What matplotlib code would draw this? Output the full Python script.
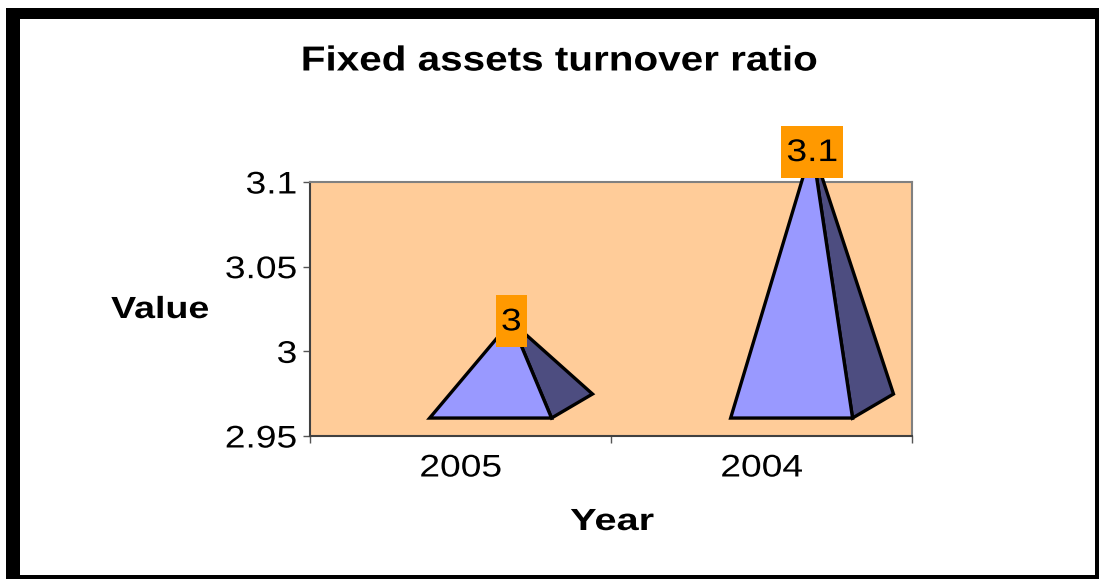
#!/usr/bin/env python3
"""Fixed assets turnover ratio - pyramid style column chart."""

import matplotlib
matplotlib.use("Agg")
import matplotlib.pyplot as plt
from matplotlib.patches import Polygon, Rectangle
from matplotlib.patheffects import AbstractPathEffect
from matplotlib.transforms import Affine2D, blended_transform_factory

plt.rcParams["font.family"] = ["Liberation Sans", "DejaVu Sans"]

# Data
YEARS = ["2005", "2004"]
VALUES = [3.0, 3.103]
LABEL_VALUES = [3.0, 3.1]
VALUE_LABELS = ["3", "3.1"]
Y_TICKS = [2.95, 3.0, 3.05, 3.1]
Y_TICK_LABELS = ["2.95", "3", "3.05", "3.1"]

# Appearance
W, H = 1099, 579
PLOT_LEFT, PLOT_RIGHT, PLOT_TOP, PLOT_BOTTOM = 310, 912, 182, 436
FRONT = "#9999ff"
SIDE = "#4d4d80"
PLOT_BG = "#ffcc99"
LABEL_BG = "#ff9900"
AXIS_GRAY = "#808080"
TICK_SIZE = 22.5
LABEL_SIZE = 22
TITLE_SIZE = 25
STRETCH = 1.19

# Pyramid geometry in data units
BASE_SHIFT = 0.10
BASE_WIDTH = 0.405
DEPTH_X = 0.136
DEPTH_Y = 0.0142
FLOOR = 2.9606
APEX_LIFT = 0.0177
LABEL_BOX_H = 0.0307
LABEL_BOX_W = 0.103  # per character slot
LABEL_DROP = 0.0006


class Stretch(AbstractPathEffect):
    """Widen text about its anchor; the source chart's type is horizontally stretched."""

    def __init__(self, sx, anchor=0.5):
        super().__init__()
        self.sx = sx
        self.anchor = anchor

    def draw_path(self, renderer, gc, tpath, affine, rgbFace=None):
        width = affine.transform_path(tpath).get_extents().width
        shift = -self.anchor * (self.sx - 1) * width
        stretched = Affine2D().scale(self.sx, 1) + affine + Affine2D().translate(shift, 0)
        renderer.draw_path(gc, tpath, stretched, rgbFace)


def fx(px):
    return px / W


def fy(px):
    return 1 - px / H


def main():
    fig = plt.figure(figsize=(W / 100, H / 100), dpi=100, facecolor="white")

    # Heavy black frame around the chart
    for x0, y0, x1, y1 in [(6, 8, 20, 579), (6, 8, 1099, 19), (1095, 8, 1099, 579), (6, 575, 1099, 579)]:
        fig.add_artist(Rectangle((fx(x0), fy(y1)), fx(x1 - x0), fy(y0) - fy(y1),
                                 transform=fig.transFigure, facecolor="black", edgecolor="none"))

    ax = fig.add_axes([fx(PLOT_LEFT), fy(PLOT_BOTTOM),
                       fx(PLOT_RIGHT - PLOT_LEFT), fy(PLOT_TOP) - fy(PLOT_BOTTOM)])
    ax.set_facecolor(PLOT_BG)
    ax.set_xlim(0, 2)
    ax.set_ylim(Y_TICKS[0], Y_TICKS[-1])

    for i, (value, label_value, label) in enumerate(zip(VALUES, LABEL_VALUES, VALUE_LABELS)):
        left = i + 0.5 - BASE_WIDTH / 2 + BASE_SHIFT
        right = left + BASE_WIDTH
        centre = left + BASE_WIDTH / 2 + DEPTH_X / 2
        apex = (centre, value + APEX_LIFT)
        back = (right + DEPTH_X, FLOOR + DEPTH_Y)
        ax.add_patch(Polygon([apex, (right, FLOOR), back], closed=True, facecolor=SIDE,
                             edgecolor="black", linewidth=2.4, clip_on=False, zorder=3))
        ax.add_patch(Polygon([apex, (left, FLOOR), (right, FLOOR)], closed=True, facecolor=FRONT,
                             edgecolor="black", linewidth=2.4, clip_on=False, zorder=4))

        # Orange label box centred over the pyramid
        box_w = LABEL_BOX_W * (1 if len(label) == 1 else 2)
        label_y = label_value + APEX_LIFT
        ax.add_patch(Rectangle((centre - box_w / 2, label_y - LABEL_BOX_H / 2), box_w, LABEL_BOX_H,
                               facecolor=LABEL_BG, edgecolor="none", clip_on=False, zorder=5))
        ax.text(centre, label_y - LABEL_DROP, label, ha="center", va="center", fontsize=TICK_SIZE,
                color="black", zorder=6, clip_on=False, path_effects=[Stretch(STRETCH)])

    ax.set_xticks([0, 1, 2])
    ax.set_xticklabels([])
    ax.set_yticks(Y_TICKS)
    ax.set_yticklabels(Y_TICK_LABELS, fontsize=TICK_SIZE)
    ax.tick_params(axis="both", length=5, width=1, color="#555555", pad=4.5)
    for tick_label in ax.get_yticklabels():
        tick_label.set_path_effects([Stretch(STRETCH, anchor=1.0)])
    for spine in ["top", "right"]:
        ax.spines[spine].set_color(AXIS_GRAY)
    for spine in ["left", "bottom"]:
        ax.spines[spine].set_color("#404040")
    for spine in ax.spines.values():
        spine.set_linewidth(1.5)

    # Category labels sit at the middle of each tick interval
    year_trans = blended_transform_factory(ax.transData, fig.transFigure)
    for i, year in enumerate(YEARS):
        ax.text(i + 0.5, fy(468.5), year, transform=year_trans, ha="center", va="center",
                fontsize=TICK_SIZE, path_effects=[Stretch(STRETCH)])

    fig.text(fx(559), fy(61), "Fixed assets turnover ratio", ha="center", va="center",
             fontsize=TITLE_SIZE, fontweight="bold", path_effects=[Stretch(1.165)])
    fig.text(fx(160), fy(310), "Value", ha="center", va="center", fontsize=LABEL_SIZE,
             fontweight="bold", path_effects=[Stretch(1.23)])
    fig.text(fx(612), fy(522), "Year", ha="center", va="center", fontsize=LABEL_SIZE,
             fontweight="bold", path_effects=[Stretch(1.3)])

    fig.savefig("out.png", dpi=100, facecolor="white")


if __name__ == "__main__":
    main()
